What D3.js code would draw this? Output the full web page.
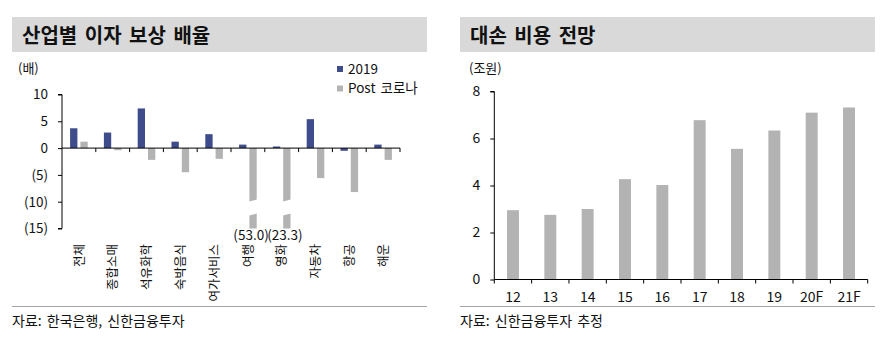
<!DOCTYPE html>
<html><head><meta charset="utf-8">
<script src="https://cdn.jsdelivr.net/npm/d3@7"></script>
<style>
html,body{margin:0;padding:0;background:#fff;}
svg text{font-family:"Noto Sans CJK KR","Noto Sans",sans-serif;fill:#111;}
</style></head>
<body>
<svg id="chart" width="887" height="341"></svg>
<script>
// ---- Left chart data ----
const categories = ["전체","종합소매","석유화학","숙박음식","여가서비스","여행","영화","자동차","항공","해운"];
const values2019 = [3.7, 2.9, 7.4, 1.2, 2.6, 0.65, 0.3, 5.4, -0.5, 0.65];
const valuesPost = [1.2, -0.4, -2.2, -4.5, -2.0, -53.0, -23.3, -5.6, -8.2, -2.2];
const leftTicks = [10, 5, 0, -5, -10, -15];
const seriesNames = ["2019", "Post 코로나"];

// ---- Right chart data ----
const years = ["12","13","14","15","16","17","18","19","20F","21F"];
const loanLoss = [2.95, 2.75, 3.0, 4.27, 4.02, 6.78, 5.56, 6.34, 7.1, 7.32];
const rightTicks = [0, 2, 4, 6, 8];

const NAVY = "#3f4c8b", GRAY = "#b3b3b3";
const svg = d3.select("#chart");

function header(x0, x1, title) {
  svg.append("rect").attr("x", x0).attr("y", 17).attr("width", x1 - x0).attr("height", 35).attr("fill", "#d9d9d9");
  svg.append("text").attr("x", x0 + 10).attr("y", 42.5).attr("font-size", 20).attr("font-weight", "bold")
    .attr("word-spacing", 3).text(title);
}
function footer(x0, x1, txt) {
  svg.append("line").attr("x1", x0).attr("x2", x1).attr("y1", 306.5).attr("y2", 306.5).attr("stroke", "#a6a6a6").attr("stroke-width", 1);
  svg.append("text").attr("x", x0).attr("y", 326).attr("font-size", 14).attr("word-spacing", 2).text(txt);
}
const fmtNeg = v => v < 0 ? "(" + Math.abs(v) + ")" : String(v);
const fmt1 = v => v < 0 ? "(" + Math.abs(v).toFixed(1) + ")" : v.toFixed(1);

// ================= LEFT =================
header(12, 427, "산업별 이자 보상 배율");
footer(12, 427, "자료: 한국은행, 신한금융투자");
svg.append("text").attr("x", 18).attr("y", 73).attr("font-size", 13).text("(배)");

const yL = d3.scaleLinear().domain([-15, 10]).range([228.5, 94.5]);
const xL = d3.scaleBand().domain(categories).range([62, 400]).padding(0);
const xS = d3.scaleBand().domain(seriesNames).range([0, xL.bandwidth()]).paddingInner(0.29).paddingOuter(0.785);

// y axis
const gyL = svg.append("g").attr("transform", "translate(62,0)")
  .call(d3.axisLeft(yL).tickValues(leftTicks).tickFormat(fmtNeg).tickSize(4).tickPadding(10));
gyL.select(".domain").attr("stroke", "#000").attr("d", `M-4,${yL(10)}H0V${yL(-15)}H-4`);
gyL.selectAll(".tick line").attr("stroke", "#000");
gyL.selectAll(".tick text").attr("font-size", 13.5).attr("fill", "#111").attr("font-family", '"Noto Sans CJK KR",sans-serif');

// bars
const rows = categories.map((c, i) => ({c, a: values2019[i], b: valuesPost[i]}));
const clampV = v => Math.max(v, yL.domain()[0]);
const g = svg.append("g");
rows.forEach(r => {
  const bx = xL(r.c);
  g.append("rect").attr("x", bx + xS("2019")).attr("width", xS.bandwidth())
    .attr("y", yL(Math.max(0, r.a))).attr("height", Math.abs(yL(r.a) - yL(0))).attr("fill", NAVY);
  const vb = clampV(r.b);
  g.append("rect").attr("x", bx + xS("Post 코로나")).attr("width", xS.bandwidth())
    .attr("y", yL(Math.max(0, vb))).attr("height", Math.abs(yL(vb) - yL(0))).attr("fill", GRAY);
  if (r.b < yL.domain()[0]) {
    // axis break on out-of-range bar
    const x0 = bx + xS("Post 코로나") - 2, x1 = x0 + xS.bandwidth() + 4;
    const yt = yL(-9.7), yb = yL(-12.3);
    g.append("polygon").attr("fill", "#fff")
      .attr("points", `${x0},${yt + 2} ${x1},${yt - 1} ${x1},${yb - 1} ${x0},${yb + 2}`);
    svg.append("text").attr("x", bx + xS("Post 코로나") + xS.bandwidth() / 2 - 2).attr("y", 240)
      .attr("text-anchor", "middle").attr("font-size", 13.5).text(fmt1(r.b));
  }
});

// x axis at zero
const gxL = svg.append("g").attr("transform", `translate(0,${yL(0)})`);
gxL.append("line").attr("x1", xL.range()[0]).attr("x2", xL.range()[1]).attr("stroke", "#000");
d3.range(1, categories.length + 1).forEach(i => {
  const tx = xL.range()[0] + i * xL.step();
  gxL.append("line").attr("x1", tx).attr("x2", tx).attr("y1", 0).attr("y2", 4).attr("stroke", "#000");
});
// vertical category labels
categories.forEach(c => {
  const cx = xL(c) + xL.bandwidth() / 2;
  svg.append("text").attr("transform", `translate(${cx},244) rotate(-90)`)
    .attr("text-anchor", "end").attr("dy", "0.38em").attr("font-size", 12.5).text(c);
});

// legend
seriesNames.forEach((s, i) => {
  const ly = 69 + i * 19.5;
  svg.append("rect").attr("x", 337).attr("y", ly - 3).attr("width", 6).attr("height", 6).attr("fill", i === 0 ? NAVY : GRAY);
  svg.append("text").attr("x", 348).attr("y", ly + 4.5).attr("font-size", 13.5).attr("word-spacing", 2).text(s);
});

// ================= RIGHT =================
header(460, 875, "대손 비용 전망");
footer(460, 875, "자료: 신한금융투자 추정");
svg.append("text").attr("x", 469).attr("y", 73).attr("font-size", 13).text("(조원)");

const yR = d3.scaleLinear().domain([0, 8]).range([279.5, 91.5]);
const xR = d3.scaleBand().domain(years).range([494.3, 867.7]).paddingInner(0.68).paddingOuter(0.34);

svg.append("g").selectAll("rect").data(years).join("rect")
  .attr("x", d => xR(d)).attr("width", xR.bandwidth())
  .attr("y", (d, i) => yR(loanLoss[i])).attr("height", (d, i) => yR(0) - yR(loanLoss[i]))
  .attr("fill", GRAY);

const gyR = svg.append("g").attr("transform", "translate(494.3,0)")
  .call(d3.axisLeft(yR).tickValues(rightTicks).tickSize(4).tickPadding(10));
gyR.select(".domain").attr("stroke", "#000").attr("d", `M-4,${yR(8)}H0V${yR(0)}`);
gyR.selectAll(".tick line").attr("stroke", "#000");
gyR.selectAll(".tick text").attr("font-size", 14).attr("fill", "#111").attr("font-family", '"Noto Sans CJK KR",sans-serif');

const gxR = svg.append("g").attr("transform", `translate(0,${yR(0)})`);
gxR.append("line").attr("x1", xR.range()[0]).attr("x2", xR.range()[1]).attr("stroke", "#000");
d3.range(0, years.length + 1).forEach(i => {
  const tx = xR.range()[0] + i * xR.step();
  gxR.append("line").attr("x1", tx).attr("x2", tx).attr("y1", 0).attr("y2", 4).attr("stroke", "#000");
});
years.forEach(yv => {
  svg.append("text").attr("x", xR(yv) + xR.bandwidth() / 2).attr("y", 302)
    .attr("text-anchor", "middle").attr("font-size", 14).text(yv);
});
</script>
</body></html>
